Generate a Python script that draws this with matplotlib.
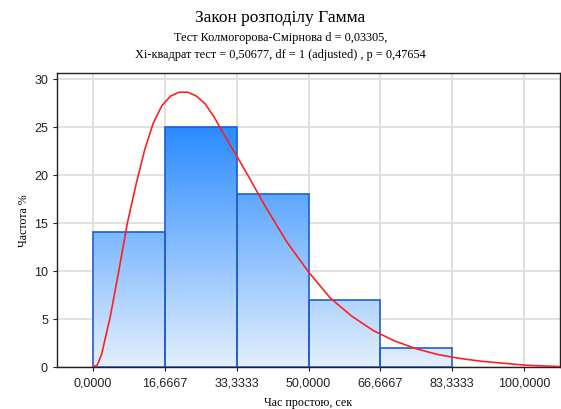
import numpy as np
import matplotlib
matplotlib.use('Agg')
from matplotlib import pyplot as plt
from matplotlib.patches import Rectangle
from matplotlib.colors import LinearSegmentedColormap

# Histogram bins (seconds) and frequencies (%)
bin_edges = [0.0, 16.6667, 33.3333, 50.0, 66.6667, 83.3333]
freq = [14, 25, 18, 7, 2]

# Fitted gamma curve
curve_x = [0, 1, 2, 4, 6, 8, 10, 12, 14, 16, 18, 20, 22, 24, 26, 28, 30,
           33.3, 36, 40, 45, 50, 55, 60, 65, 70, 75, 80, 85, 90, 95, 100, 105, 108.3]
curve_y = [0, 0.2, 1.3, 5.2, 10.0, 15.0, 19.0, 22.6, 25.4, 27.2, 28.2, 28.6, 28.6,
           28.2, 27.4, 26.1, 24.5, 22.0, 19.9, 16.7, 13.0, 9.9, 7.2, 5.3, 3.8,
           2.7, 1.9, 1.3, 0.9, 0.6, 0.4, 0.2, 0.1, 0.05]

xticks = [0.0, 16.6667, 33.3333, 50.0, 66.6667, 83.3333, 100.0]
xtick_labels = ['0,0000', '16,6667', '33,3333', '50,0000', '66,6667', '83,3333', '100,0000']
yticks = [0, 5, 10, 15, 20, 25, 30]

title = 'Закон розподілу Гамма'
sub1 = 'Тест Колмогорова-Смірнова d = 0,03305,'
sub2 = 'Xi-квадрат тест = 0,50677, df = 1 (adjusted) , p = 0,47654'

fig = plt.figure(figsize=(5.61, 4.10), dpi=100)
ax = fig.add_axes([57 / 561, 42 / 410, 503 / 561, 294 / 410])

ax.set_xticks(xticks)
ax.set_xticklabels(xtick_labels)
ax.set_yticks(yticks)
ax.grid(True, color='#dcdcdc', linewidth=1.2)
ax.set_axisbelow(True)

# vertical gradient, shared across all bars (dark at top of tallest bar)
cmap = LinearSegmentedColormap.from_list('bars', ['#e4effc', '#2a8bff'])
grad = np.linspace(0, 1, 256).reshape(-1, 1)
top = max(freq)
for i, h in enumerate(freq):
    x0, x1 = bin_edges[i], bin_edges[i + 1]
    im = ax.imshow(grad, cmap=cmap, origin='lower', aspect='auto',
                   extent=[x0, x1, 0, top], zorder=2, interpolation='bilinear')
    rect = Rectangle((x0, 0), x1 - x0, h, facecolor='none',
                     edgecolor='#1f5fd0', linewidth=1.2, zorder=3)
    ax.add_patch(rect)
    im.set_clip_path(rect)
ax.set_xlim(-8.3333, 108.3333)
ax.set_ylim(0, 30.6)

ax.plot(curve_x, curve_y, color='#ff2020', linewidth=1.2, zorder=4)

for s in ax.spines.values():
    s.set_color('#222222')
    s.set_linewidth(1.0)
ax.tick_params(axis='both', direction='out', length=3, width=0.8,
               labelsize=9, labelcolor='#222222', color='#222222')
for lab in ax.get_xticklabels() + ax.get_yticklabels():
    lab.set_family('Liberation Sans')

ax.set_xlabel('Час простою, сек', fontsize=8.6, family='Liberation Serif', labelpad=6)
ax.set_ylabel('Частота %', fontsize=8.6, family='Liberation Serif', labelpad=3)

fig.text(0.5, 1 - 18 / 410, title, ha='center', va='center',
         fontsize=12.5, family='Liberation Serif')
fig.text(0.5, 1 - 38 / 410, sub1, ha='center', va='center',
         fontsize=8.8, family='Liberation Serif')
fig.text(0.5, 1 - 55 / 410, sub2, ha='center', va='center',
         fontsize=8.8, family='Liberation Serif')

fig.savefig('out.png', dpi=100)
